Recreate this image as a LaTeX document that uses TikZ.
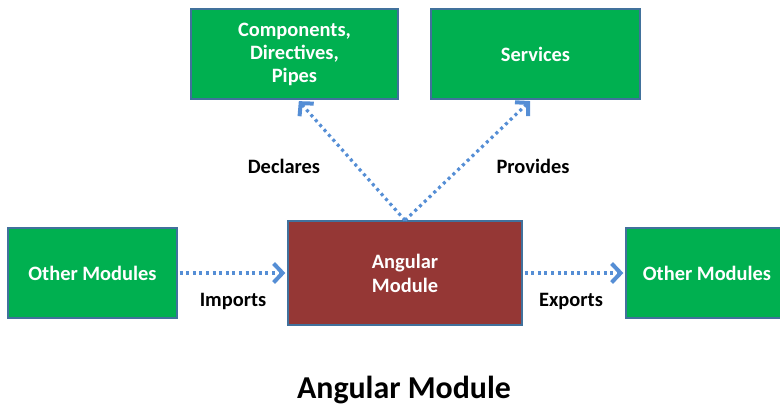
\documentclass[tikz,border=0pt]{standalone}
\usepackage{fontspec}
\setmainfont{Carlito}
\usetikzlibrary{arrows.meta}
\definecolor{boxgreen}{HTML}{00B050}
\definecolor{boxline}{HTML}{41719C}
\definecolor{modred}{HTML}{953735}
\definecolor{arrowblue}{HTML}{558ED5}

\begin{document}
\begin{tikzpicture}[x=1bp,y=-1bp,>={Straight Barb[length=9bp,width=19bp,line width=4bp]},
  shorten >=2bp,shorten <=2bp,
  main node/.style={rectangle,draw=boxline,line width=1.3bp,fill=boxgreen,text=white,
    align=center,inner sep=0pt,font=\bfseries\fontsize{20.5}{23}\selectfont},
  label node/.style={font=\bfseries\fontsize{20.5}{23}\selectfont,inner sep=0pt},
  link/.style={draw=arrowblue,line width=3.2bp,dash pattern=on 3bp off 3.6bp}]

  \useasboundingbox (0,0) rectangle (780,409);

  \node[main node,minimum width=207bp,minimum height=90bp] (1) at (294.5,54) {Components,\\Directives,\\Pipes};
  \node[main node,minimum width=209bp,minimum height=90bp] (2) at (535.5,54) {Services};
  \node[main node,minimum width=169bp,minimum height=90bp] (3) at (92.5,273) {Other Modules};
  \node[main node,fill=modred,minimum width=234bp,minimum height=104bp,
    font=\bfseries\fontsize{20.5}{24}\selectfont] (4) at (405,273) {Angular\\Module};
  \node[main node,minimum width=162bp,minimum height=90bp] (5) at (707,273) {Other Modules};

  % connector labels
  \node[label node] (declares) at (284,166) {Declares};
  \node[label node] (provides) at (533,166) {Provides};
  \node[label node] (imports) at (233,301) {Imports};
  \node[label node] (exports) at (571,301) {Exports};

  \node[label node,font=\bfseries\fontsize{32}{38}\selectfont] (title) at (404,390) {Angular Module};

  \path[link,every edge/.append style={->}]
    (4.north) edge[shorten <=0bp] ([xshift=3bp]1.south)
              edge[shorten <=0bp] ([xshift=-4bp]2.south)
    (3) edge (4)
    (4) edge (5);
\end{tikzpicture}
\end{document}
